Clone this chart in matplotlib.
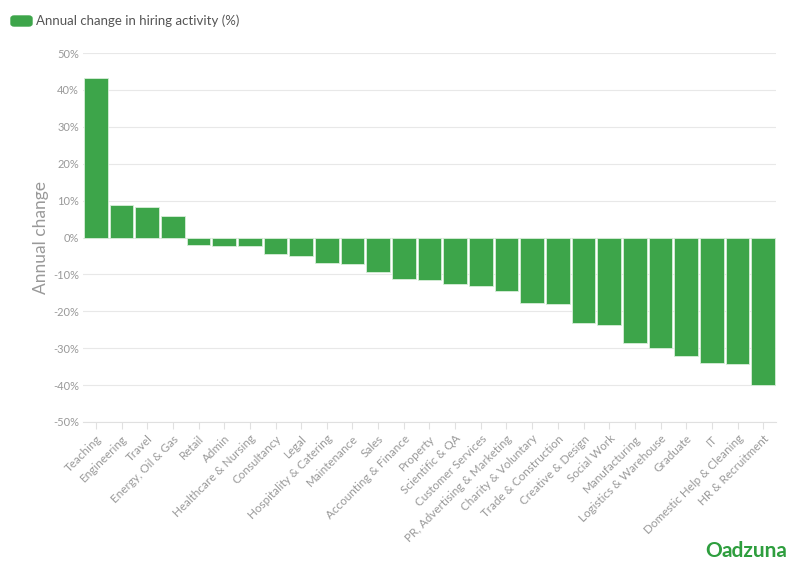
import numpy as np
import matplotlib
matplotlib.use("Agg")
from matplotlib import pyplot as plt
from matplotlib.patches import FancyBboxPatch

# данные
categories = ["Teaching", "Engineering", "Travel", "Energy, Oil & Gas", "Retail", "Admin",
              "Healthcare & Nursing", "Consultancy", "Legal", "Hospitality & Catering",
              "Maintenance", "Sales", "Accounting & Finance", "Property", "Scientific & QA",
              "Customer Services", "PR, Advertising & Marketing", "Charity & Voluntary",
              "Trade & Construction", "Creative & Design", "Social Work", "Manufacturing",
              "Logistics & Warehouse", "Graduate", "IT", "Domestic Help & Cleaning",
              "HR & Recruitment"]
change = [43.3, 8.8, 8.2, 5.8, -2.1, -2.3, -2.3, -4.4, -5.0, -6.8, -7.3, -9.4, -11.2,
          -11.6, -12.7, -13.1, -14.5, -17.7, -18.1, -23.3, -23.6, -28.6, -29.9, -32.0,
          -34.0, -34.3, -40.1]
yticks = [50, 40, 30, 20, 10, 0, -10, -20, -30, -40, -50]

green = "#3da54a"
grey = "#999999"
plt.rcParams['font.family'] = ['Lato', 'DejaVu Sans']

fig = plt.figure(figsize=(7.96, 5.75), dpi=100)
ax = fig.add_axes([83 / 796, 1 - 422 / 575, (776 - 83) / 796, (422 - 53) / 575])

x = np.arange(len(categories))
ax.bar(x, change, width=0.92, color=green, edgecolor="#d8eed9", linewidth=0.6, zorder=3)

ax.set_xlim(-0.5, len(categories) - 0.5)
ax.set_ylim(-50, 50)
ax.set_yticks(yticks)
ax.set_yticklabels([f"{v}%" for v in yticks], color=grey, fontsize=8)
ax.set_xticks(x)
ax.set_xticklabels(categories, rotation=45, ha="right", rotation_mode="anchor",
                   color=grey, fontsize=8.4)
ax.tick_params(axis="y", length=0, pad=3)
ax.tick_params(axis="x", length=5, color="#e0e0e0", pad=3)
ax.grid(axis="y", color="#e8e8e8", linewidth=0.8, zorder=0)
for s in ["top", "right", "left"]:
    ax.spines[s].set_visible(False)
ax.spines["bottom"].set_color("#e0e0e0")
ax.set_ylabel("Annual change", color=grey, fontsize=12.5, labelpad=3)

# легенда
fig.patches.append(FancyBboxPatch((11 / 796, 1 - 26 / 575), 21 / 796, 10 / 575,
                                  boxstyle="round,pad=0,rounding_size=0.004",
                                  transform=fig.transFigure, color=green))
fig.text(36 / 796, 1 - 21 / 575, "Annual change in hiring activity (%)",
         color="#555555", fontsize=9.5, va="center")

# логотип
fig.text(787 / 796, 1 - 551 / 575, "adzuna", color="#2e9e3e", fontsize=15,
         fontweight="bold", ha="right", va="center")
fig.text(714 / 796, 1 - 551 / 575, "O", color="#2e9e3e", fontsize=15,
         fontweight="bold", ha="center", va="center")

fig.savefig("out.png", dpi=100)
